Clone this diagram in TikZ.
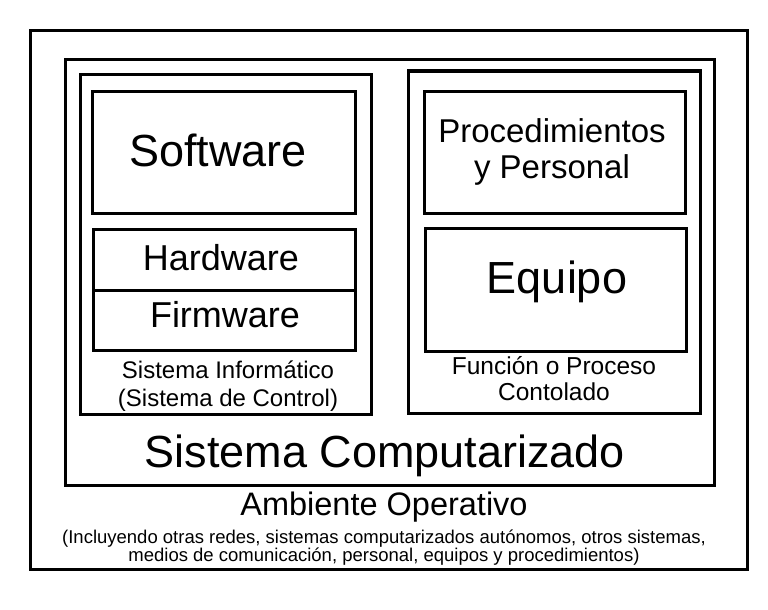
\documentclass[tikz,border=0pt]{standalone}
\usepackage{fontspec}
\setmainfont{Liberation Sans}
\begin{document}
\begin{tikzpicture}[x=1pt,y=-1pt,
  frame/.style={draw=black,line width=3pt},
  lbl/.style={anchor=base,inner sep=0pt,text=black},
  fs/.style={font=\fontsize{#1}{#1}\selectfont}]
\useasboundingbox[fill=white] (0,0) rectangle (768,610);
% boxes
\draw[frame] (30,30.5) rectangle (747,569);
\draw[frame] (65,60) rectangle (714,485);
\draw[frame] (80,74) rectangle (371,414);
\draw[frame] (92,91) rectangle (355,213);
\draw[frame] (93,229) rectangle (355,290);
\draw[frame] (93,290) rectangle (355,350);
\draw[frame] (408,71) rectangle (700,413);
\draw[frame] (424,91) rectangle (685,213);
\draw[frame] (425,228) rectangle (686,351);
% texts
\node[lbl,fs=45] (sw) at (218,166) {Software};
\node[lbl,fs=36] (hw) at (221,270) {Hardware};
\node[lbl,fs=36] (fw) at (225,327) {Firmware};
\node[lbl,fs=24] (si1) at (228,378) {Sistema Informático};
\node[lbl,fs=24] (si2) at (228,406) {(Sistema de Control)};
\node[lbl,fs=33] (pr1) at (552,142) {Procedimientos};
\node[lbl,fs=33] (pr2) at (552,178) {y Personal};
\node[lbl,fs=45] (eq) at (557,293) {Equipo};
\node[lbl,fs=24.5] (fp1) at (554,374) {Función o Proceso};
\node[lbl,fs=24.5] (fp2) at (554,400) {Contolado};
\node[lbl,fs=45] (sc) at (385,467) {Sistema Computarizado};
\node[lbl,fs=32.5] (ao) at (384,515) {Ambiente Operativo};
\node[lbl,fs=18.5] (d1) at (384,543) {(Incluyendo otras redes, sistemas computarizados autónomos, otros sistemas,};
\node[lbl,fs=18.5] (d2) at (384,561) {medios de comunicación, personal, equipos y procedimientos)};
\end{tikzpicture}
\end{document}
